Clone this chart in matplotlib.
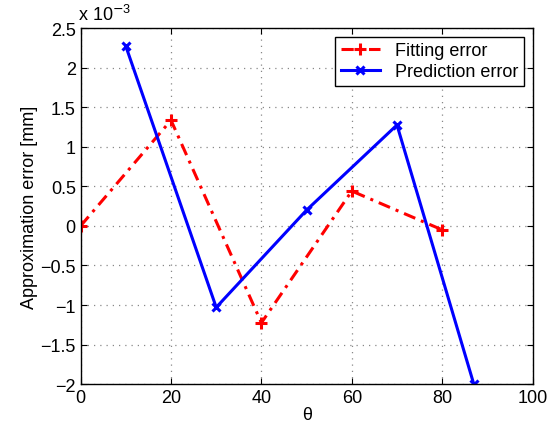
import matplotlib
matplotlib.use('Agg')
import matplotlib.pyplot as plt
from matplotlib.ticker import FuncFormatter

plt.rcParams['font.family'] = ['Liberation Sans', 'DejaVu Sans']
plt.rcParams['font.size'] = 13

# data (errors in mm)
fit_theta = [0, 20, 40, 60, 80]
fit_err = [0.0, 1.335e-3, -1.225e-3, 0.44e-3, -0.05e-3]
pred_theta = [10, 30, 50, 70, 87]
pred_err = [2.27e-3, -1.03e-3, 0.2e-3, 1.275e-3, -2.0e-3]

fig = plt.figure(figsize=(5.6, 4.27), dpi=100)
ax = fig.add_axes([0.144, 0.098, 0.807, 0.834])

ax.plot(fit_theta, fit_err, color='red', linestyle=(0, (4, 2, 1, 2)), linewidth=2.2,
        marker='+', markersize=8, markeredgewidth=2.2, label='Fitting error')
ax.plot(pred_theta, pred_err, color='blue', linestyle='-', linewidth=2.2,
        marker='x', markersize=6, markeredgewidth=2.2, label='Prediction error')

def fmt(v, p):
    s = '%g' % round(v * 1e3, 3)
    return s.replace('-', '\u2212')

ax.set_xlim(0, 100)
ax.set_ylim(-2e-3, 2.5e-3)
ax.set_xticks([0, 20, 40, 60, 80, 100])
ax.set_yticks([i * 0.5e-3 for i in range(-4, 6)])
ax.yaxis.set_major_formatter(FuncFormatter(fmt))
ax.text(-0.005, 1.01, 'x 10$^{\u2212\\mathregular{3}}$', transform=ax.transAxes,
        ha='left', va='bottom', fontsize=13)

ax.grid(True, linestyle=(0, (1, 4)), color='#888888', linewidth=0.9)
ax.tick_params(direction='in', top=True, right=True, length=4, labelsize=13)
for s in ax.spines.values():
    s.set_linewidth(1.0)

ax.set_xlabel('\u03b8', labelpad=0)
ax.set_ylabel('Approximation error [mm]', labelpad=2)

ax.legend(loc='upper right', fancybox=False, edgecolor='black', framealpha=1,
          borderaxespad=0.5, handlelength=2.2, fontsize=13, borderpad=0.3,
          labelspacing=0.2)

fig.savefig('out.png', dpi=100)
